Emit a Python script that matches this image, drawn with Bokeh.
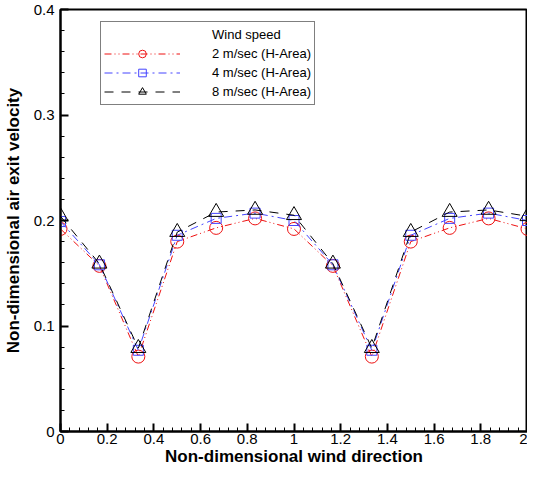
from bokeh.plotting import figure
from bokeh.models import (ColumnDataSource, Legend, LegendItem, FixedTicker,
                          CustomJSTickFormatter, Range1d)
from bokeh.embed import file_html
from bokeh.resources import INLINE

# ---- data ----
wind_direction = [0, 1/6, 1/3, 0.5, 2/3, 5/6, 1, 7/6, 4/3, 1.5, 5/3, 11/6, 2]
v_2ms = [0.192, 0.157, 0.071, 0.180, 0.193, 0.202, 0.192, 0.157, 0.071, 0.180, 0.193, 0.202, 0.192]
v_4ms = [0.199, 0.158, 0.077, 0.186, 0.202, 0.207, 0.200, 0.158, 0.077, 0.186, 0.202, 0.207, 0.200]
v_8ms = [0.204, 0.159, 0.079, 0.189, 0.208, 0.210, 0.205, 0.159, 0.079, 0.189, 0.208, 0.210, 0.204]
series_labels = ["2 m/sec (H-Area)", "4 m/sec (H-Area)", "8 m/sec (H-Area)"]
legend_title = "Wind speed"
x_ticks = [0, 0.2, 0.4, 0.6, 0.8, 1.0, 1.2, 1.4, 1.6, 1.8, 2.0]
y_ticks = [0, 0.1, 0.2, 0.3, 0.4]

FONT = "Liberation Sans"

p = figure(width=527, height=468, output_backend="svg", toolbar_location=None,
           x_range=Range1d(0, 2), y_range=Range1d(0, 0.4),
           min_border_left=58, min_border_right=0, min_border_top=9, min_border_bottom=20)
p.background_fill_color = "white"
p.border_fill_color = "white"
p.outline_line_color = "black"
p.outline_line_width = 2
p.grid.visible = False

fmt = CustomJSTickFormatter(code="return String(parseFloat(tick.toFixed(3)));")

xmin = [i * 0.04 for i in range(51)]
ymin = [i * 0.02 for i in range(21)]
p.xaxis.ticker = FixedTicker(ticks=x_ticks, minor_ticks=xmin)
p.yaxis.ticker = FixedTicker(ticks=y_ticks, minor_ticks=ymin)
for ax in (p.xaxis, p.yaxis):
    ax.formatter = fmt
    ax.axis_line_width = 2
    ax.axis_line_color = "black"
    ax.major_tick_in = 8
    ax.major_tick_out = 0
    ax.minor_tick_in = 4
    ax.minor_tick_out = 0
    ax.major_tick_line_width = 2
    ax.minor_tick_line_width = 1
    ax.major_label_text_font = FONT
    ax.major_label_text_font_size = "15px"
    ax.major_label_text_color = "black"
    ax.axis_label_text_font = FONT
    ax.axis_label_text_font_size = "17px"
    ax.axis_label_text_font_style = "bold"
    ax.axis_label_text_color = "black"

p.xaxis.axis_label = "Non-dimensional wind direction"
p.yaxis.axis_label = "Non-dimensional air exit velocity"
p.xaxis.major_label_standoff = 2
p.xaxis.axis_label_standoff = 0
p.yaxis.major_label_standoff = 6
p.yaxis.axis_label_standoff = 8

src = ColumnDataSource(dict(x=wind_direction, v2=v_2ms, v4=v_4ms, v8=v_8ms))

red = "#ee1111"
blue = "#4444ff"
black = "black"

l2 = p.line("x", "v2", source=src, line_color=red, line_width=1, line_dash="7 3 1 3 1 3")
m2 = p.scatter("x", "v2", source=src, marker="circle", size=13, fill_color=None,
               line_color=red, line_width=1)
l4 = p.line("x", "v4", source=src, line_color=blue, line_width=1, line_dash="8 4 2 4")
m4 = p.scatter("x", "v4", source=src, marker="square", size=10, fill_color=None,
               line_color=blue, line_width=1)
l8 = p.line("x", "v8", source=src, line_color=black, line_width=1, line_dash="9 8")
m8 = p.scatter("x", "v8", source=src, marker="triangle", size=15, fill_color=None,
               line_color=black, line_width=1)

dummy = p.line(x=[], y=[], line_alpha=0)

legend = Legend(items=[
    LegendItem(label=legend_title, renderers=[dummy]),
    LegendItem(label=series_labels[0], renderers=[l2, m2]),
    LegendItem(label=series_labels[1], renderers=[l4, m4]),
    LegendItem(label=series_labels[2], renderers=[l8, m8]),
], location=(40, 326))
legend.label_text_font = FONT
legend.label_text_font_size = "13px"
legend.label_text_color = "black"
legend.glyph_width = 76
legend.glyph_height = 19
legend.label_height = 19
legend.label_standoff = 32
legend.spacing = 0
legend.padding = 3
legend.margin = 0
legend.border_line_color = "black"
legend.border_line_width = 1
legend.background_fill_color = "white"
legend.background_fill_alpha = 1
p.add_layout(legend, "center")

open("out.html", "w").write(file_html(p, INLINE))
